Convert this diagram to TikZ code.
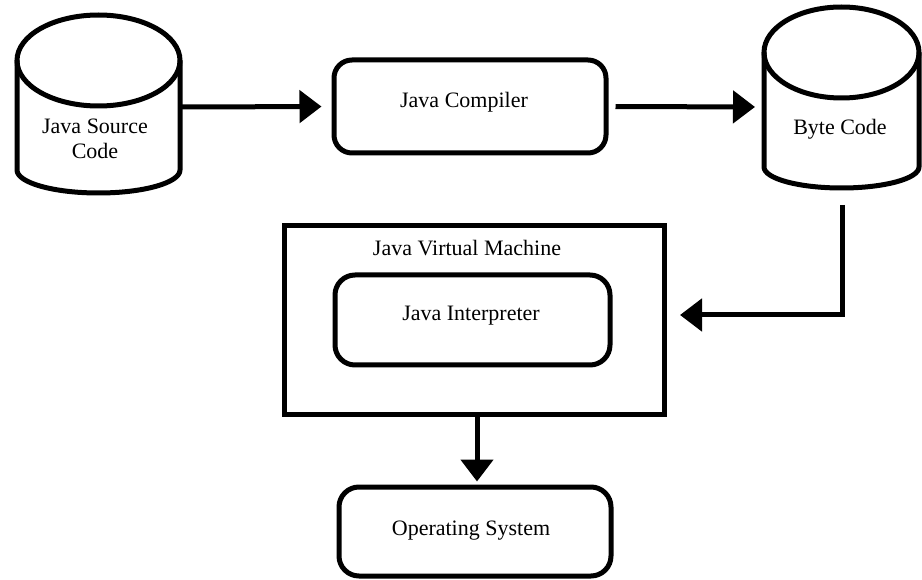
\documentclass[tikz,border=0pt]{standalone}
\usepackage{fontspec}
\setmainfont{Liberation Serif}
\newfontfamily\tnrfont{Liberation Serif}
\usetikzlibrary{arrows.meta}
\begin{document}
\begin{tikzpicture}[x=1pt,y=-1pt,
  thick line/.style={line width=5pt},
  arr/.style={line width=5pt,-{Triangle[length=22pt,width=32pt]}},
  rbox/.style={draw,line width=5pt,rounded corners=18pt,inner sep=0pt},
  lbl/.style={font=\tnrfont\fontsize{22}{25}\selectfont,align=center,inner sep=0pt}
]
\useasboundingbox (0,0) rectangle (922,580);

% Java Source cylinder
\draw[thick line] (98.5,60.5) ellipse [x radius=81.5pt, y radius=45.5pt];
\draw[thick line,line join=round] (17,60.5) -- (17,170) arc[start angle=180,end angle=360,x radius=81.5pt,y radius=23pt] -- (180,60.5);
\node[inner sep=0pt,minimum width=163pt,minimum height=178pt] (src) at (98.5,104) {};
\node[lbl] (srct) at (95,139) {Java Source\\Code};
\coordinate (srcR) at (180,107);

% Java Compiler
\node[rbox,minimum width=272pt,minimum height=93pt] (comp) at (470,106.5) {};
\node[lbl] (compt) at (464,102) {Java Compiler};

% Byte Code cylinder
\draw[thick line] (841.5,52.5) ellipse [x radius=77.5pt, y radius=45.5pt];
\draw[thick line,line join=round] (764,52.5) -- (764,167) arc[start angle=180,end angle=360,x radius=77.5pt,y radius=21pt] -- (919,52.5);
\node[inner sep=0pt,minimum width=155pt,minimum height=181pt] (byte) at (841.5,97.5) {};
\node[lbl] (bytet) at (840,129) {Byte Code};
\coordinate (byteL) at (764,107);
\coordinate (byteB) at (842,205);

% Java Virtual Machine
\node[draw,line width=5pt,inner sep=0pt,minimum width=380pt,minimum height=189pt] (jvm) at (474.5,320) {};
\node[lbl] (jvmt) at (467,248) {Java Virtual Machine};
\node[rbox,rounded corners=20pt,minimum width=275pt,minimum height=90pt] (interp) at (472.5,320) {};
\node[lbl] (interpt) at (471,316) {Java Interpreter};
\coordinate (jvmR) at (680,315);

% Operating System
\node[rbox,rounded corners=20pt,minimum width=272pt,minimum height=89pt] (os) at (475,531.5) {};
\node[lbl] (ost) at (471,531) {Operating System};

% connectors
\draw[arr,shorten >=10pt] (srcR) -- (comp.west);
\draw[arr,shorten <=7pt,shorten >=9pt] (comp.east) -- (byteL);
\draw[arr,line join=miter] (byteB) |- (jvmR);
\draw[arr,shorten >=3pt] (jvm.south -| 477,0) -- (os.north -| 477,0);
\end{tikzpicture}
\end{document}
